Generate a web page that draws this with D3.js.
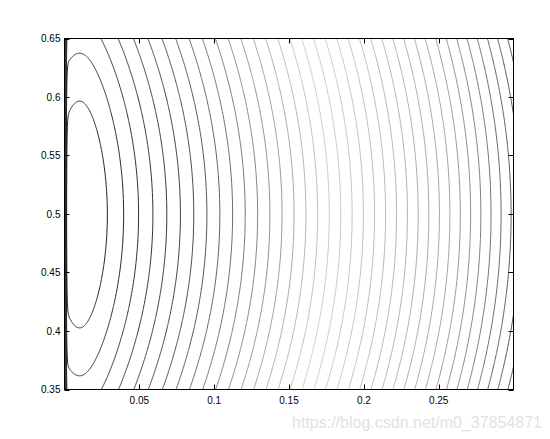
<!DOCTYPE html>
<html>
<head>
<meta charset="utf-8">
<script src="https://cdn.jsdelivr.net/npm/d3@7"></script>
<style>
  body { margin: 0; background: #fff; }
  text { font-family: "Liberation Sans", Arial, sans-serif; }
</style>
</head>
<body>
<svg width="550" height="439"></svg>
<script>
// tick values
var xTicks = [0.05, 0.1, 0.15, 0.2, 0.25]
var yTicks = [0.35, 0.4, 0.45, 0.5, 0.55, 0.6, 0.65]
// contour levels, 36 = innermost loop, 0 = the one in the top right corner
var levels = [0, 1, 2, 3, 4, 5, 6, 7, 8, 9, 10, 11, 12, 13, 14, 15, 16, 17,
  18, 19, 20, 21, 22, 23, 24, 25, 26, 27, 28, 29, 30, 31, 32, 33, 34, 35, 36]

// surface parameters (fitted to where the lines cross y = 0.5 and the top edge)
var peakX = 0.01, peakW = 0.0138, slopeB = 101.8, curveC = 84.2
var wallA = 42, wallEps = 0.00033, bendY = 2.34, topLevel = 36.977

function surface(x, y) {
  var dx = x - peakX
  var q = (y - 0.5) / 0.15
  return topLevel
    - slopeB * (Math.sqrt(dx * dx + peakW * peakW) - peakW)
    - curveC * dx * dx
    - wallA * Math.exp(-x / wallEps)
    - bendY * q * q
}

var width = 550
var height = 439
var plotL = 64.5, plotR = 513.5, plotT = 38.5, plotB = 389.5

var svg = d3.select("svg")

var x = d3.scaleLinear().domain([0, 0.3]).range([plotL, plotR])
var y = d3.scaleLinear().domain([0.35, 0.65]).range([plotB, plotT])

// sample grid in pixel space, a little larger than the plot so the
// polygon borders fall outside the clip
var stepX = 0.25, stepY = 1
var x0 = plotL - 2, y0 = plotT - 3
var nx = Math.ceil((plotR - plotL + 4) / stepX) + 1
var ny = Math.ceil((plotB - plotT + 6) / stepY) + 1
var values = new Float64Array(nx * ny)
for (var j = 0; j < ny; j++) {
  var yv = y.invert(y0 + j * stepY)
  for (var i = 0; i < nx; i++) {
    values[j * nx + i] = surface(x.invert(x0 + i * stepX), yv)
  }
}

var contours = d3.contours()
  .size([nx, ny])
  .thresholds(levels)(values)

var path = d3.geoPath(d3.geoTransform({
  point: function (px, py) {
    this.stream.point(x0 + px * stepX, y0 + py * stepY)
  }
}))

// grey version of the jet colormap
function jetGray(t) {
  var clamp = function (v) { return Math.max(0, Math.min(1, v)) }
  var r = clamp(1.5 - Math.abs(4 * t - 3))
  var g = clamp(1.5 - Math.abs(4 * t - 2))
  var b = clamp(1.5 - Math.abs(4 * t - 1))
  var l = Math.round(255 * (0.299 * r + 0.587 * g + 0.114 * b) * 0.9)
  return d3.rgb(l, l, l).toString()
}
var tScale = d3.scaleLinear().domain([2, 36]).range([0.25, 1])

svg.append("clipPath").attr("id", "plot")
  .append("rect")
  .attr("x", plotL).attr("y", plotT)
  .attr("width", plotR - plotL).attr("height", plotB - plotT)

svg.append("g")
  .attr("clip-path", "url(#plot)")
  .selectAll("path")
  .data(contours)
  .enter().append("path")
  .attr("d", path)
  .attr("fill", "none")
  .attr("stroke", function (d) { return jetGray(tScale(d.value)) })
  .attr("stroke-width", 1)

// box
svg.append("rect")
  .attr("x", plotL).attr("y", plotT)
  .attr("width", plotR - plotL).attr("height", plotB - plotT)
  .attr("fill", "none")
  .attr("stroke", "#000")
  .attr("stroke-width", 1)

var tickLen = 5
var axes = svg.append("g").attr("stroke", "#000").attr("stroke-width", 1)
xTicks.forEach(function (t) {
  var px = Math.round(x(t)) + 0.5
  axes.append("line").attr("x1", px).attr("x2", px).attr("y1", plotB).attr("y2", plotB - tickLen)
  axes.append("line").attr("x1", px).attr("x2", px).attr("y1", plotT).attr("y2", plotT + tickLen)
})
yTicks.forEach(function (t) {
  var py = Math.round(y(t)) + 0.5
  axes.append("line").attr("x1", plotL).attr("x2", plotL + tickLen).attr("y1", py).attr("y2", py)
  axes.append("line").attr("x1", plotR).attr("x2", plotR - tickLen).attr("y1", py).attr("y2", py)
})

svg.append("g").selectAll("text")
  .data(xTicks)
  .enter().append("text")
  .attr("x", function (d) { return x(d) })
  .attr("y", plotB + 14)
  .attr("text-anchor", "middle")
  .attr("font-size", 10)
  .text(function (d) { return d3.format("")(d) })

svg.append("g").selectAll("text")
  .data(yTicks)
  .enter().append("text")
  .attr("x", plotL - 4)
  .attr("y", function (d) { return y(d) })
  .attr("dy", "0.35em")
  .attr("text-anchor", "end")
  .attr("font-size", 10)
  .text(function (d) { return d3.format("")(d) })

// csdn watermark
svg.append("text")
  .attr("x", 542)
  .attr("y", 428)
  .attr("text-anchor", "end")
  .attr("font-size", 16)
  .attr("fill", "#e2e2e2")
  .text("https://blog.csdn.net/m0_37854871")
</script>
</body>
</html>
